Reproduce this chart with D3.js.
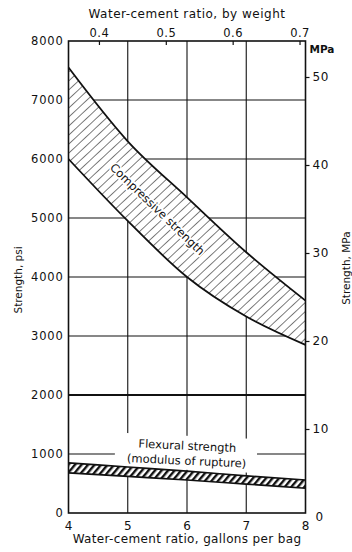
<!DOCTYPE html>
<html>
<head>
<meta charset="utf-8">
<script src="https://cdn.jsdelivr.net/npm/d3@7"></script>
<style>
  html, body { margin: 0; padding: 0; background: #fff; }
  svg { display: block; }
  text { font-family: "DejaVu Sans", sans-serif; fill: #111; }
</style>
</head>
<body>
<svg id="chart" width="352" height="552"></svg>
<script>
// Water-cement ratio in gallons of water per 94-lb bag of cement
const gallons = [4, 5, 6, 7, 8];
// Compressive strength range, psi
const compressiveUpper = [7550, 6300, 5350, 4420, 3600];
const compressiveLower = [6000, 4950, 4000, 3330, 2850];
// Flexural strength (modulus of rupture) range, psi
const flexuralUpper = [850, 780, 710, 630, 560];
const flexuralLower = [680, 620, 560, 490, 420];

const psiTicks = [0, 1000, 2000, 3000, 4000, 5000, 6000, 7000, 8000];
const mpaTicks = [0, 10, 20, 30, 40, 50];
const ratioTicks = [0.4, 0.5, 0.6, 0.7];
const gallonTicks = [4, 5, 6, 7, 8];

// one gallon of water weighs 8.33 lb; one bag holds 94 lb of cement
const lbPerGallon = 8.33, lbPerBag = 94;

const svg = d3.select("#chart");
const plotL = 68.5, plotR = 305.5, plotT = 41, plotB = 513;

const x = d3.scaleLinear().domain([4, 8]).range([plotL, plotR]);
const xRatio = d3.scaleLinear()
  .domain([4 * lbPerGallon / lbPerBag, 8 * lbPerGallon / lbPerBag])
  .range([plotL, plotR]);
const y = d3.scaleLinear().domain([0, 8000]).range([plotB, plotT]);
const yMpa = d3.scaleLinear().domain([0, 50]).range([517, 77]);

const defs = svg.append("defs");
defs.append("pattern")
  .attr("id", "hatchC").attr("patternUnits", "userSpaceOnUse")
  .attr("width", 6.6).attr("height", 10)
  .attr("patternTransform", "rotate(47)")
  .append("line").attr("x1", 0).attr("y1", 0).attr("x2", 0).attr("y2", 10)
  .attr("stroke", "#111").attr("stroke-width", 1.1);
defs.append("pattern")
  .attr("id", "hatchF").attr("patternUnits", "userSpaceOnUse")
  .attr("width", 5).attr("height", 10)
  .attr("patternTransform", "rotate(40)")
  .append("line").attr("x1", 1.2).attr("y1", 0).attr("x2", 1.2).attr("y2", 10)
  .attr("stroke", "#111").attr("stroke-width", 2.4);

// grid
const grid = svg.append("g").attr("stroke", "#111").attr("stroke-width", 1.1);
grid.selectAll("line.h").data(psiTicks.filter(d => d > 0 && d < 8000)).join("line")
  .attr("class", "h")
  .attr("x1", plotL).attr("x2", plotR)
  .attr("y1", d => y(d)).attr("y2", d => y(d))
  .attr("stroke-width", d => d === 2000 ? 1.8 : 1.1);
grid.selectAll("line.v").data(gallonTicks.slice(1, -1)).join("line")
  .attr("class", "v")
  .attr("x1", d => x(d)).attr("x2", d => x(d))
  .attr("y1", plotT).attr("y2", plotB);

// compressive strength band
const area = (up, lo) => d3.area()
  .x((d, i) => x(gallons[i]))
  .y0((d, i) => y(lo[i]))
  .y1((d, i) => y(up[i]))
  .curve(d3.curveMonotoneX)(gallons);
const edge = vals => d3.line()
  .x((d, i) => x(gallons[i]))
  .y((d, i) => y(vals[i]))
  .curve(d3.curveMonotoneX)(gallons);

svg.append("path").attr("d", area(compressiveUpper, compressiveLower)).attr("fill", "#fff");
svg.append("path").attr("d", area(compressiveUpper, compressiveLower)).attr("fill", "url(#hatchC)");
[compressiveUpper, compressiveLower].forEach(v =>
  svg.append("path").attr("d", edge(v)).attr("fill", "none")
    .attr("stroke", "#111").attr("stroke-width", 1.8));

// label along the compressive band
const gLab = 5.5;
const bandMid = (d3.scaleLinear().domain(gallons).range(compressiveUpper)(gLab) +
                 d3.scaleLinear().domain(gallons).range(compressiveLower)(gLab)) / 2;
svg.append("text")
  .attr("transform", `translate(${x(gLab)},${y(bandMid)}) rotate(44)`)
  .attr("text-anchor", "middle").attr("dy", "0.35em")
  .attr("font-size", 11.5)
  .attr("stroke", "#fff").attr("stroke-width", 3.5).attr("paint-order", "stroke")
  .text("Compressive strength");

// white block behind the flexural label
const labX = 6, labPsi = 1020;
const lab = svg.append("g").attr("transform", `translate(${x(labX)},${y(labPsi)}) rotate(2.7)`);
lab.append("rect").attr("x", -72).attr("y", -17).attr("width", 142).attr("height", 34).attr("fill", "#fff");
lab.append("text").attr("text-anchor", "middle").attr("y", -3).attr("font-size", 11.5)
  .text("Flexural strength");
lab.append("text").attr("text-anchor", "middle").attr("y", 12).attr("font-size", 11.5)
  .text("(modulus of rupture)");

// flexural strength band
svg.append("path").attr("d", area(flexuralUpper, flexuralLower)).attr("fill", "#fff");
svg.append("path").attr("d", area(flexuralUpper, flexuralLower)).attr("fill", "url(#hatchF)");
[flexuralUpper, flexuralLower].forEach(v =>
  svg.append("path").attr("d", edge(v)).attr("fill", "none")
    .attr("stroke", "#111").attr("stroke-width", 1.6));

// frame
svg.append("rect").attr("x", plotL).attr("y", plotT)
  .attr("width", plotR - plotL).attr("height", plotB - plotT)
  .attr("fill", "none").attr("stroke", "#111").attr("stroke-width", 1.6);

// left axis labels (psi)
svg.append("g").selectAll("text").data(psiTicks).join("text")
  .attr("x", plotL - 5).attr("y", d => y(d)).attr("dy", "0.36em")
  .attr("text-anchor", "end").attr("font-size", 11.5).attr("letter-spacing", 0.8)
  .text(d => d);

// bottom axis labels (gallons per bag)
svg.append("g").selectAll("text").data(gallonTicks).join("text")
  .attr("x", d => x(d)).attr("y", plotB + 17)
  .attr("text-anchor", "middle").attr("font-size", 12)
  .text(d => d);

// top axis (water-cement ratio by weight)
const topAxis = svg.append("g").attr("transform", `translate(0,${plotT})`)
  .call(d3.axisTop(xRatio).tickValues(ratioTicks).tickSize(-4).tickPadding(10)
    .tickFormat(d3.format(".1f")));
topAxis.select(".domain").remove();
topAxis.selectAll(".tick line").attr("stroke", "#111").attr("stroke-width", 1.2);
topAxis.selectAll(".tick text").attr("font-size", 11.5).attr("font-family", "DejaVu Sans")
  .attr("fill", "#111").attr("letter-spacing", 0.5).attr("dy", "0.5em");

// right axis (MPa)
const rightAxis = svg.append("g").attr("transform", `translate(${plotR},0)`)
  .call(d3.axisRight(yMpa).tickValues(mpaTicks).tickSize(4).tickPadding(3));
rightAxis.select(".domain").remove();
rightAxis.selectAll(".tick line").attr("stroke", "#111").attr("stroke-width", 1.2)
  .attr("display", d => d === 0 ? "none" : null);
rightAxis.selectAll(".tick text").attr("font-size", 12).attr("font-family", "DejaVu Sans")
  .attr("fill", "#111").attr("letter-spacing", 0.5)
  .attr("x", d => d === 0 ? 10 : 7);

svg.append("text").attr("x", plotR + 4).attr("y", yMpa(50) - 24)
  .attr("font-size", 10.5).attr("font-weight", "bold").text("MPa");

// axis titles
svg.append("text").attr("x", (plotL + plotR) / 2).attr("y", 18)
  .attr("text-anchor", "middle").attr("font-size", 12).attr("letter-spacing", 0.5)
  .text("Water-cement ratio, by weight");
svg.append("text").attr("x", (plotL + plotR) / 2).attr("y", 543)
  .attr("text-anchor", "middle").attr("font-size", 12).attr("letter-spacing", 0.35)
  .text("Water-cement ratio, gallons per bag");
svg.append("text").attr("transform", `translate(22,${y(3950)}) rotate(-90)`)
  .attr("text-anchor", "middle").attr("font-size", 10.5)
  .text("Strength, psi");
svg.append("text").attr("transform", `translate(350,${y(4150)}) rotate(-90)`)
  .attr("text-anchor", "middle").attr("font-size", 10.5)
  .text("Strength, MPa");
</script>
</body>
</html>
